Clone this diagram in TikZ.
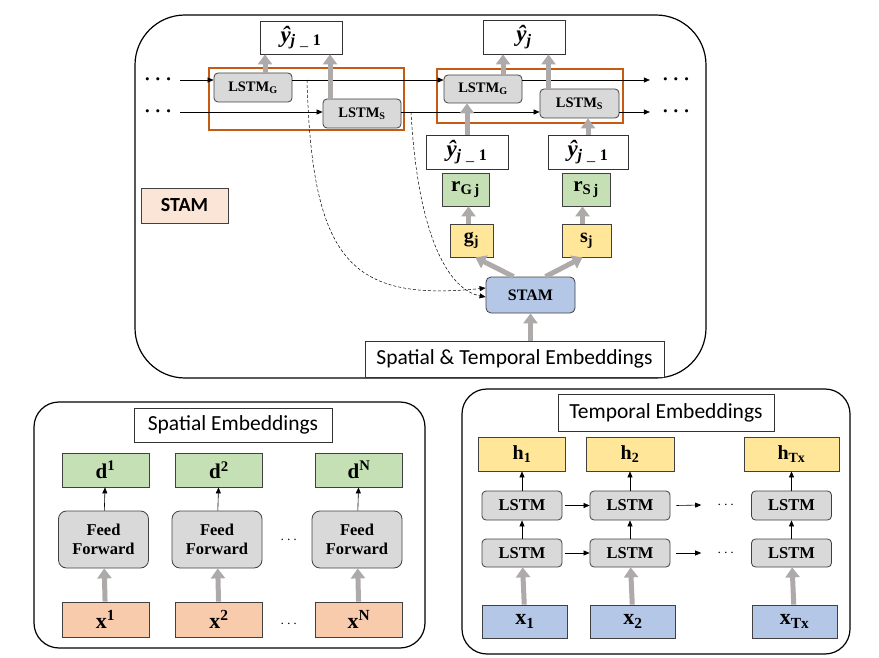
\documentclass[tikz,border=0pt]{standalone}
\usepackage{amsmath,amssymb,bm}
\usepackage{fontspec}
\setmainfont{Liberation Serif}
\newfontfamily\calib{Carlito}
\usetikzlibrary{arrows.meta,positioning}
\usepackage{xcolor}
\definecolor{boxgray}{HTML}{D9D9D9}
\definecolor{boxgreen}{HTML}{C5E0B4}
\definecolor{boxyellow}{HTML}{FFE699}
\definecolor{boxpeach}{HTML}{F8CBAD}
\definecolor{boxblue}{HTML}{B4C7E7}
\definecolor{boxpink}{HTML}{FBE5D6}
\definecolor{rimorange}{HTML}{C55A11}
\definecolor{arrowgray}{HTML}{AEAAAA}
\newcommand{\fs}[1]{\fontsize{#1}{#1}\selectfont}
\newcommand{\yhat}{{\bfseries\itshape ŷ}}
\newcommand{\yprev}{\yhat$_{\textbf{\textit{j}}\;\_\;\textbf{1}}$}
\newcommand{\ycur}{\yhat$_{\textbf{\textit{j}}}$}

\begin{document}
\begin{tikzpicture}[x=1pt,y=-1pt,
    box/.style={draw=black!75, line width=0.8pt, inner sep=0pt, font=\bfseries},
    lstm/.style={box, fill=boxgray, rounded corners=4pt},
    plain/.style={draw=black!80, line width=0.8pt, inner sep=0pt, fill=white},
    yout/.style={plain, font=\fs{23}},
    title/.style={plain, font=\calib\fs{21.5}},
    frame/.style={draw=black, line width=1.2pt},
    fat/.style={draw=arrowgray, line width=5pt, -{Triangle[width=14pt,length=10pt]}},
    thin/.style={draw=black, line width=0.6pt, -{Triangle[width=5pt,length=6pt]}},
    trail/.style={draw=black, line width=0.5pt, dash pattern=on 3pt off 2pt, -{Triangle[width=5pt,length=6pt]}},
    dots/.style={inner sep=0pt, font=\fs{20}}]
\useasboundingbox (0,0) rectangle (879,658);

% ---------- STAM decoder ----------
\draw[frame, rounded corners=50pt] (135,15) rectangle (706,378);

\node[yout, minimum width=82pt, minimum height=33pt] (yprevT) at (301,37.5) {\yprev};
\node[yout, minimum width=82pt, minimum height=34pt] (ycurT) at (524,37) {\ycur};

\node[lstm, minimum width=78pt, minimum height=29pt, font=\bfseries\fs{14.5}] (lgA) at (253,87.5) {LSTM$_{\textbf{G}}$};
\node[lstm, minimum width=78pt, minimum height=29pt, font=\bfseries\fs{14.5}] (lsA) at (362,113.5) {LSTM$_{\textbf{S}}$};
\node[lstm, minimum width=78pt, minimum height=28pt, font=\bfseries\fs{14.5}] (lgB) at (483,89) {LSTM$_{\textbf{G}}$};
\node[lstm, minimum width=79pt, minimum height=29pt, font=\bfseries\fs{14.5}] (lsB) at (579.5,103.5) {LSTM$_{\textbf{S}}$};

\draw[rimorange, line width=1.6pt] (209,68) rectangle (404,130);
\draw[rimorange, line width=1.6pt] (437,69) rectangle (623,123);

\node[dots] (dotsGL) at (160,80) {$\bm{\cdots}$};
\node[dots] (dotsSL) at (160,112) {$\bm{\cdots}$};
\node[dots] (dotsGR) at (678,80) {$\bm{\cdots}$};
\node[dots] (dotsSR) at (678,112) {$\bm{\cdots}$};

\draw[thin, shorten <=4pt] (dotsGL) -- (lgA.west |- dotsGL);
\draw[thin] (lgA.east |- dotsGL) -- (lgB.west |- dotsGL);
\draw[thin, shorten >=12pt] (lgB.east |- dotsGR) -- (dotsGR.west);
\draw[thin, shorten <=4pt] (dotsSL) -- (lsA.west |- dotsSL);
\draw[thin] (lsA.east |- dotsSL) -- (lsB.west |- dotsSL);
\draw[thin, shorten >=12pt] (lsB.east |- dotsSR) -- (dotsSR.west);

\draw[fat] ([xshift=12pt]lgA.north) -- ([xshift=12pt]lgA.north |- yprevT.south);
\draw[fat] ([xshift=-32pt]lsA.north) -- ([xshift=-32pt]lsA.north |- yprevT.south);
\draw[fat] ([xshift=20pt]lgB.north) -- ([xshift=20pt]lgB.north |- ycurT.south);
\draw[fat] ([xshift=-31pt]lsB.north) -- ([xshift=-31pt]lsB.north |- ycurT.south);

\node[yout, minimum width=82pt, minimum height=34pt] (ymidG) at (467,152) {\yprev};
\node[yout, minimum width=80pt, minimum height=34pt] (ymidS) at (588,152) {\yprev};
\node[box, fill=boxgreen, minimum width=47pt, minimum height=33pt, font=\bfseries\fs{21}] (rG) at (465.5,189.5) {r$_{\textbf{G\,j}}$};
\node[box, fill=boxgreen, minimum width=48pt, minimum height=33pt, font=\bfseries\fs{21}] (rS) at (586,189.5) {r$_{\textbf{S\,j}}$};
\node[box, fill=boxyellow, minimum width=43pt, minimum height=33pt, font=\bfseries\fs{20}] (gj) at (471.5,240.5) {g$_{\textbf{j}}$};
\node[box, fill=boxyellow, minimum width=49pt, minimum height=33pt, font=\bfseries\fs{20}] (sj) at (586.5,240.5) {s$_{\textbf{j}}$};
\node[box, fill=boxblue, rounded corners=5pt, minimum width=89pt, minimum height=36pt, font=\bfseries\fs{16}] (stam) at (530.5,295) {STAM};
\node[title, minimum width=299pt, minimum height=36pt] (emb) at (514.5,359) {Spatial \& Temporal Embeddings};
\node[box, fill=boxpink, minimum width=87pt, minimum height=35pt, font=\calib\bfseries\fs{20}] (stamlabel) at (184.5,205.5) {STAM};

\draw[fat] (ymidG.north) -- (ymidG.north |- lgB.south);
\draw[fat] (ymidS.north) -- (ymidS.north |- lsB.south);
\draw[fat] ([xshift=-3pt]gj.north) -- ([xshift=-3pt]gj.north |- rG.south);
\draw[fat] ([xshift=-4pt]sj.north) -- ([xshift=-4pt]sj.north |- rS.south);
\draw[fat] ([xshift=-17pt]stam.north) -- ([xshift=4pt]gj.south);
\draw[fat] ([xshift=15pt]stam.north) -- ([xshift=-4pt]sj.south);
\draw[fat] (stam.south |- emb.north) -- (stam.south);

\coordinate (tapG) at (307,80);
\coordinate (tapS) at (411,112);
\draw[trail] (tapG) .. controls (312,260) and (350,302) .. ([yshift=7pt]stam.west);
\draw[trail] (tapS) .. controls (418,240) and (450,290) .. ([yshift=-2pt]stam.west);

% ---------- spatial embeddings ----------
\draw[frame, rounded corners=25pt] (34,402) rectangle (425,648);
\node[title, minimum width=198pt, minimum height=34pt] (spTitle) at (233,425) {Spatial Embeddings};

\foreach \n/\cx/\lab in {1/105.5/1, 2/219/2, 3/359/N}{
  \node[box, fill=boxgreen, minimum width=87pt, minimum height=34pt, font=\bfseries\fs{21}] (d\n) at (\cx,470) {d$^{\textbf{\lab}}$};
  \node[lstm, rounded corners=8pt, minimum width=90pt, minimum height=57pt, align=center, font=\bfseries\fs{16.5}] (ff\n) at (\cx-2,539.5) {Feed\\[2pt]Forward};
  \node[box, fill=boxpeach, minimum width=87pt, minimum height=35pt, font=\bfseries\fs{22}] (x\n) at (\cx,619.5) {x$^{\textbf{\lab}}$};
  \draw[thin] (ff\n) -- (d\n);
  \draw[fat] (x\n) -- (ff\n);
}
\node[dots, font=\fs{14}] (spDotsA) at (290,540) {$\cdots$};
\node[dots, font=\fs{14}] (spDotsB) at (290,624) {$\cdots$};

% ---------- temporal embeddings ----------
\draw[frame, rounded corners=25pt] (462,389) rectangle (850,654);
\node[title, minimum width=216pt, minimum height=37pt] (tmTitle) at (666,412.5) {Temporal Embeddings};

\foreach \n/\cx/\lab/\bw in {1/522/1/87, 2/630/2/88, 3/791.5/Tx/95}{
  \node[box, fill=boxyellow, minimum width=\bw pt, minimum height=34pt, font=\bfseries\fs{20}] (h\n) at (\cx,454) {h$_{\textbf{\lab}}$};
  \node[lstm, minimum width=80pt, minimum height=29pt, font=\bfseries\fs{16.5}] (ua\n) at (\cx,505.5) {LSTM};
  \node[lstm, minimum width=80pt, minimum height=28pt, font=\bfseries\fs{16.5}] (la\n) at (\cx,553) {LSTM};
  \node[box, fill=boxblue, minimum width=85pt, minimum height=33pt, font=\bfseries\fs{22}] (xa\n) at (\cx+3,621.5) {x$_{\textbf{\lab}}$};
  \draw[thin] (ua\n) -- (h\n);
  \draw[thin] (la\n) -- (ua\n);
  \draw[fat] (xa\n) -- (la\n);
}
\node[dots, font=\fs{14}] (tmDotsU) at (727,505) {$\cdots$};
\node[dots, font=\fs{14}] (tmDotsL) at (727,553) {$\cdots$};
\draw[thin, shorten <=3pt] (ua1) -- (ua2);
\draw[thin, shorten <=3pt] (la1) -- (la2);
\draw[thin] ([xshift=6pt]ua2.east) -- ([xshift=-16pt]tmDotsU.west);
\draw[thin] ([xshift=6pt]la2.east) -- ([xshift=-16pt]tmDotsL.west);
\end{tikzpicture}
\end{document}
